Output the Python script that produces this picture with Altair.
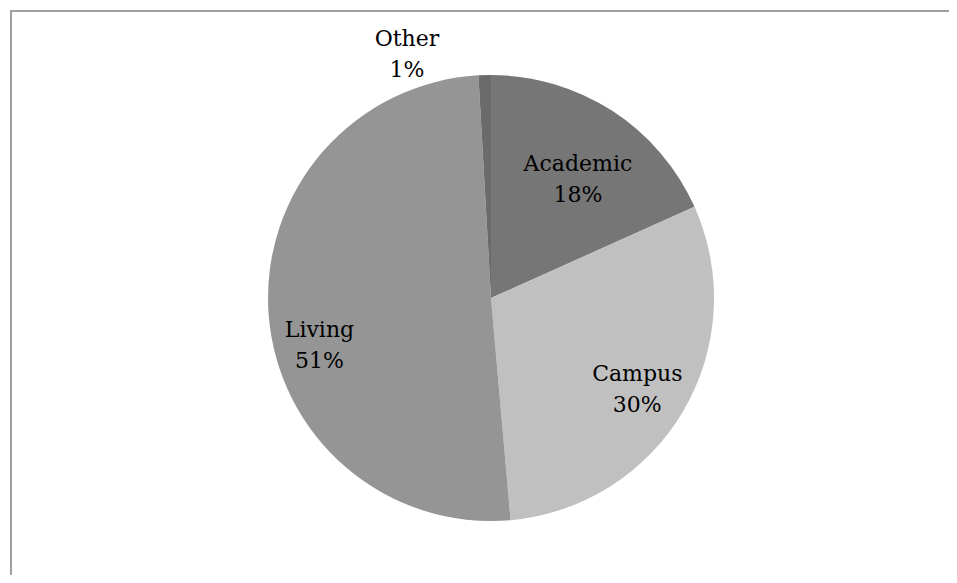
import altair as alt
import pandas as pd

categories = ["Academic", "Campus", "Living", "Other"]
shares = [18.3, 30.3, 50.5, 0.9]
pct_labels = ["18%", "30%", "51%", "1%"]
colors = ["#767676", "#c0c0c0", "#959595", "#6b6b6b"]

df = pd.DataFrame({
    "category": categories,
    "share": shares,
    "pct": pct_labels,
    "idx": list(range(len(categories))),
})
df["label"] = df["category"] + "\n" + df["pct"]
total = float(sum(shares))

W, H = 941, 567
CX, CY, R = 483, 290, 223
FONT = "DejaVu Serif"

theta_scale = alt.Scale(domain=[0, total], range=[0, 6.283185307179586])

base = alt.Chart(df).transform_window(
    cum="sum(share)", sort=[alt.SortField("idx")], frame=[None, 0]
).transform_calculate(
    start="datum.cum - datum.share",
    mid="datum.cum - datum.share / 2",
)

frame = alt.Chart(df).mark_rect(
    fill=None, stroke="#a0a0a0", strokeWidth=2
).encode(
    x=alt.value(3), y=alt.value(3), x2=alt.value(W + 40), y2=alt.value(H + 40)
).transform_filter("datum.idx == 0")

pie = base.mark_arc(radius=R).encode(
    theta=alt.Theta("start:Q", scale=theta_scale, stack=None),
    theta2="cum:Q",
    color=alt.Color("category:N", scale=alt.Scale(domain=categories, range=colors), legend=None),
    x=alt.value(CX),
    y=alt.value(CY),
)

def label(cat, radius, dx, dy):
    return base.transform_filter(alt.datum.category == cat).mark_text(
        radius=radius, dx=dx, dy=dy, font=FONT, fontSize=22, color="#000000",
        lineBreak="\n", lineHeight=31, align="center", baseline="middle",
    ).encode(
        theta=alt.Theta("mid:Q", scale=theta_scale, stack=None),
        text="label:N",
        x=alt.value(CX),
        y=alt.value(CY),
    )

chart = alt.layer(
    frame,
    pie,
    label("Academic", 147, 7, -11),
    label("Campus", 172, -2, -11),
    label("Living", 177, 5, 19),
    label("Other", 250, -77, -9),
).properties(
    width=W, height=H, padding=0,
    autosize=alt.AutoSizeParams(type="none"),
).configure_view(stroke=None)

chart.save("out.html", embed_options={"renderer": "svg", "actions": False})
